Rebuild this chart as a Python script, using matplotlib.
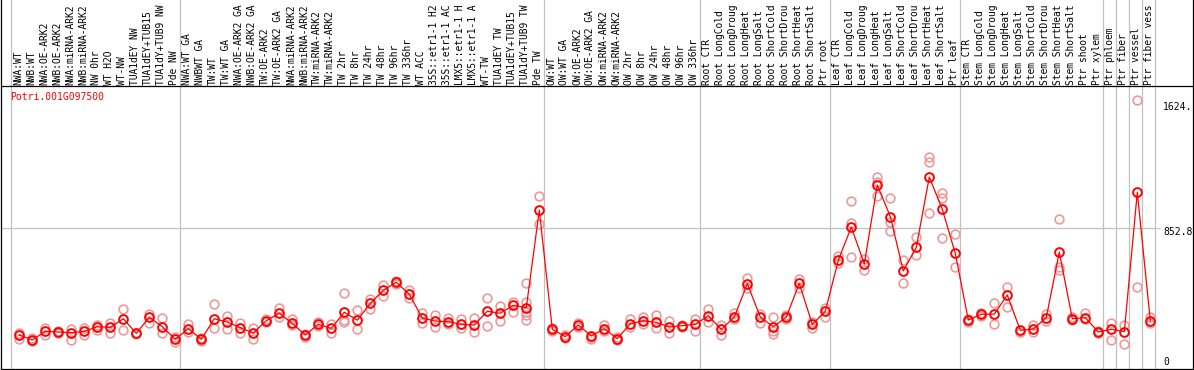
import matplotlib
matplotlib.use("Agg")
import matplotlib.pyplot as plt
import numpy as np

# sample labels, in plotting order (as far as they show in the header)
labels = [
    "NWA:WT", "NWB:WT", "NWA:OE-ARK2", "NWB:OE-ARK2", "NWA:miRNA-ARK2", "NWB:miRNA-ARK2",
    "NW 0hr", "WT H2O", "WT-NW", "TUA1dEY NW", "TUA1dEY+TUB15", "TUA1dY+TUB9 NW", "Pde NW",
    "NWA:WT GA", "NWBWT GA", "TW:WT", "TW:WT GA", "NWA:OE-ARK2 GA", "NWB:OE-ARK2 GA",
    "TW:OE-ARK2", "TW:OE-ARK2 GA", "NWA:miRNA-ARK2", "NWB:miRNA-ARK2", "TW:miRNA-ARK2",
    "TW:miRNA-ARK2", "TW 2hr", "TW 8hr", "TW 24hr", "TW 48hr", "TW 96hr", "TW 336hr", "WT ACC",
    "35S::etr1-1 H2", "35S::etr1-1 AC", "LMX5::etr1-1 H", "LMX5::etr1-1 A", "WT-TW",
    "TUA1dEY TW", "TUA1dEY+TUB15", "TUA1dY+TUB9 TW", "Pde TW",
    "OW:WT", "OW:WT GA", "OW:OE-ARK2", "OW:OE-ARK2 GA", "OW:miRNA-ARK2", "OW:miRNA-ARK2",
    "OW 2hr", "OW 8hr", "OW 24hr", "OW 48hr", "OW 96hr", "OW 336hr",
    "Root CTR", "Root LongCold", "Root LongDroug", "Root LongHeat", "Root LongSalt",
    "Root ShortCold", "Root ShortDrou", "Root ShortHeat", "Root ShortSalt", "Ptr root",
    "Leaf CTR", "Leaf LongCold", "Leaf LongDroug", "Leaf LongHeat", "Leaf LongSalt",
    "Leaf ShortCold", "Leaf ShortDrou", "Leaf ShortHeat", "Leaf ShortSalt", "Ptr leaf",
    "Stem CTR", "Stem LongCold", "Stem LongDroug", "Stem LongHeat", "Stem LongSalt",
    "Stem ShortCold", "Stem ShortDrou", "Stem ShortHeat", "Stem ShortSalt",
    "Ptr shoot", "Ptr xylem", "Ptr phloem", "Ptr fiber", "Ptr vessel", "Ptr fiber vess",
]

# mean expression per sample
means = [
    205, 175, 227, 223, 219, 227, 255, 251, 303, 215, 312, 255, 179,
    243, 179, 303, 283, 249, 217, 291, 336, 275, 205, 269, 245, 342, 294, 396,
    474, 523, 450, 307, 289, 285, 269, 265, 348, 336, 384, 369, 958,
    239, 195, 265, 199, 243, 183, 273, 291, 281, 253, 261, 269,
    321, 239, 313, 514, 313, 255, 313, 516, 269, 348,
    655, 856, 633, 1109, 919, 591, 733, 1157, 962, 697,
    295, 330, 331, 446, 233, 241, 310, 705, 303,
    309, 223, 239, 225, 1065, 291,
]

# individual replicates per sample
reps = [
    [219, 179], [169, 187], [249, 205], [229, 217], [239, 175], [247, 203],
    [267, 235], [275, 217], [360, 235], [217, 211], [331, 275], [306, 215], [195, 163],
    [269, 225], [187, 169], [392, 245], [319, 243], [279, 219], [245, 181], [300, 283],
    [366, 315], [300, 265], [211, 193], [283, 259], [271, 215], [456, 295, 285],
    [356, 243], [424, 363], [506, 440], [530, 512], [476, 426], [339, 279], [325, 255],
    [306, 271], [300, 245], [309, 225], [426, 259], [380, 289], [406, 345],
    [517, 406, 345, 325, 295], [1043, 874],
    [249, 231], [205, 187], [279, 255], [193, 183], [263, 231], [195, 175], [300, 255],
    [315, 271], [325, 245], [291, 215], [267, 253], [300, 231],
    [362, 285], [265, 203], [339, 301], [550, 486], [331, 275], [312, 231, 211],
    [325, 300], [542, 486], [285, 245], [369, 312],
    [681, 637], [1011, 878, 673], [663, 597], [1159, 1129, 1043], [1029, 888, 834],
    [657, 517], [794, 687], [1280, 1249, 938], [1063, 1032, 788], [812, 613],
    [301, 283], [338, 319], [396, 269], [496, 374], [225, 223], [265, 225], [330, 289],
    [902, 617, 597], [315, 295],
    [336, 303], [231, 217], [275, 175], [265, 149], [1624, 492], [312, 275],
]

# first sample index of each group (plus the end)
group_starts = [0, 13, 41, 53, 63, 73, 84, 85, 86, 87, 88]
gene = "Potri.001G097500"
y_ticks = [1624, 852.8, 0]
y_tick_text = ["1624.", "852.8", "0"]

W, H = 1194, 370
fig = plt.figure(figsize=(W / 100, H / 100), dpi=100)
ax = fig.add_axes([1 / W, 1 / H, 1192 / W, 369 / H])

px = 13.0                 # pixels per sample
units = 6.027             # data units per pixel
ax.set_xlim(-18.3 / px, (1193 - 19.3) / px)
ax.set_ylim(0, 369 * units)

mono = "DejaVu Sans Mono"
grid_c = "#c0c0c0"

for k in group_starts:
    ax.axvline(k - 0.662, color=grid_c, lw=0.9, zorder=0)
ax.hlines(852.8, -2, 87.75, color=grid_c, lw=0.9, zorder=0)
ax.axhline(1705.6, color="black", lw=0.9)

x = np.arange(len(means))
rx = np.concatenate([[i] * len(r) for i, r in enumerate(reps)])
ry = np.concatenate(reps)
ax.plot(rx, ry, ls="none", marker="o", ms=6.3, mfc="none",
        mec="#ee9999", mew=1.2, zorder=2)
ax.plot(x, means, color="red", lw=0.9, marker="o", ms=6.3, mfc="none",
        mec="red", mew=1.4, zorder=3)

for i, lab in enumerate(labels):
    ax.text(i - 0.08, 1712, lab, rotation=90, ha="center", va="bottom",
            family=mono, fontsize=6.9, color="black")

fig.text(10 / W, 1 - 97 / H, gene, family=mono, fontsize=7, color="red",
         ha="left", va="center")

offsets = [-5.4, -3.4, 5.0]
for val, txt, off in zip(y_ticks, y_tick_text, offsets):
    ax.annotate(txt, xy=(87.98, val), xytext=(0, off), textcoords="offset points",
                family=mono, fontsize=7, ha="left", va="center")

ax.set_xticks([])
ax.set_yticks([])
ax.spines["top"].set_visible(False)
for s in ["left", "right", "bottom"]:
    ax.spines[s].set_linewidth(0.9)

fig.savefig("out.png", dpi=100)
